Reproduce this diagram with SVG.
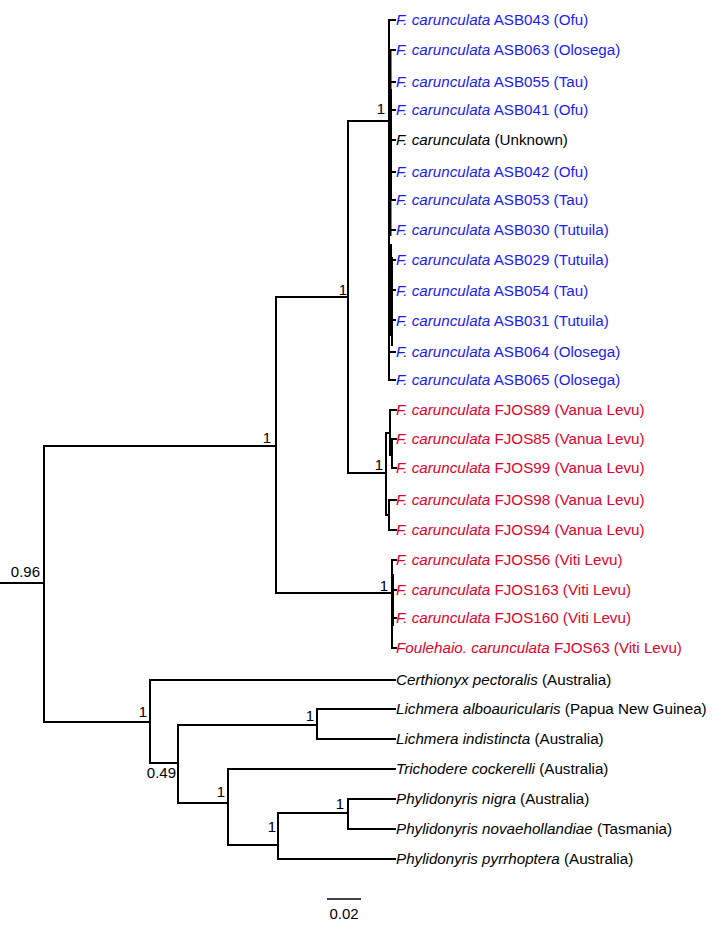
<svg xmlns="http://www.w3.org/2000/svg" width="726" height="944" viewBox="0 0 726 944">
<style>
.br{fill:none;stroke:#000;stroke-width:2;stroke-linecap:square}
.t{font-family:"Liberation Sans",Arial,sans-serif;font-size:15.2px}
.i{font-style:italic}
.b{fill:#1c1cf0}
.r{fill:#e4002b}
.k{fill:#000}
.n{font-family:"Liberation Sans",Arial,sans-serif;font-size:15px;fill:#000}
</style>
<rect width="726" height="944" fill="#fff"/>
<g id="connectors">
<path class="br" d="M0,583H44M44,446V722M44,446H276M44,722H150"/>
<path class="br" d="M276,297V593M276,297H348M276,593H392"/>
<path class="br" d="M348,121V473M348,121H389M348,473H386"/>
<!-- Samoan clade -->
<path class="br" d="M389,20V380"/>
<path class="br" d="M390.5,50V235M391,245V335M392,258V345M391,90V200"/>
<path class="br" d="M389,20H395M391,50H395M391,82H395M391,110H395M391,140H395M391,172H395M391,200H395M391,230H395M391,260H395M391,290H395M391,320H395M391,352H395M389,380H395"/>
<!-- Vanua Levu clade -->
<path class="br" d="M386,433V515M386,433H390M390,410V455M390,455H392M392,439V468M390,410H396M392,439H396M392,468H396M386,515H389M389,500V530M389,500H396M389,530H396"/>
<!-- Viti Levu clade -->
<path class="br" d="M392,560V648M393,575V625M392,560H396M393,590H396M393,618H396M392,648H396"/>
<!-- outgroups -->
<path class="br" d="M150,680V763M150,680H395M150,763H178M178,725V803M178,725H317M317,709V739M317,709H395M317,739H395M178,803H228M228,769V845M228,769H395M228,845H278M278,813V859M278,813H348M348,799V829M348,799H395M348,829H395M278,859H395"/>
<!-- scale bar -->
<path fill="none" stroke="#000" stroke-width="1.3" d="M327,899H361"/>
</g>
<g id="tips">
<g id="asb043"><text class="t b" x="396" y="25"><tspan class="i">F. carunculata</tspan> ASB043 (Ofu)</text></g>
<g id="asb063"><text class="t b" x="396" y="55"><tspan class="i">F. carunculata</tspan> ASB063 (Olosega)</text></g>
<g id="asb055"><text class="t b" x="396" y="87"><tspan class="i">F. carunculata</tspan> ASB055 (Tau)</text></g>
<g id="asb041"><text class="t b" x="396" y="115"><tspan class="i">F. carunculata</tspan> ASB041 (Ofu)</text></g>
<g id="unknown"><text class="t k" x="396" y="145"><tspan class="i">F. carunculata</tspan> (Unknown)</text></g>
<g id="asb042"><text class="t b" x="396" y="177"><tspan class="i">F. carunculata</tspan> ASB042 (Ofu)</text></g>
<g id="asb053"><text class="t b" x="396" y="205"><tspan class="i">F. carunculata</tspan> ASB053 (Tau)</text></g>
<g id="asb030"><text class="t b" x="396" y="235"><tspan class="i">F. carunculata</tspan> ASB030 (Tutuila)</text></g>
<g id="asb029"><text class="t b" x="396" y="265"><tspan class="i">F. carunculata</tspan> ASB029 (Tutuila)</text></g>
<g id="asb054"><text class="t b" x="396" y="296"><tspan class="i">F. carunculata</tspan> ASB054 (Tau)</text></g>
<g id="asb031"><text class="t b" x="396" y="326"><tspan class="i">F. carunculata</tspan> ASB031 (Tutuila)</text></g>
<g id="asb064"><text class="t b" x="396" y="357"><tspan class="i">F. carunculata</tspan> ASB064 (Olosega)</text></g>
<g id="asb065"><text class="t b" x="396" y="385"><tspan class="i">F. carunculata</tspan> ASB065 (Olosega)</text></g>
<g id="fjos89"><text class="t r" x="396" y="415"><tspan class="i">F. carunculata</tspan> FJOS89 (Vanua Levu)</text></g>
<g id="fjos85"><text class="t r" x="396" y="444"><tspan class="i">F. carunculata</tspan> FJOS85 (Vanua Levu)</text></g>
<g id="fjos99"><text class="t r" x="396" y="473"><tspan class="i">F. carunculata</tspan> FJOS99 (Vanua Levu)</text></g>
<g id="fjos98"><text class="t r" x="396" y="505"><tspan class="i">F. carunculata</tspan> FJOS98 (Vanua Levu)</text></g>
<g id="fjos94"><text class="t r" x="396" y="535"><tspan class="i">F. carunculata</tspan> FJOS94 (Vanua Levu)</text></g>
<g id="fjos56"><text class="t r" x="396" y="565"><tspan class="i">F. carunculata</tspan> FJOS56 (Viti Levu)</text></g>
<g id="fjos163"><text class="t r" x="396" y="595"><tspan class="i">F. carunculata</tspan> FJOS163 (Viti Levu)</text></g>
<g id="fjos160"><text class="t r" x="396" y="623"><tspan class="i">F. carunculata</tspan> FJOS160 (Viti Levu)</text></g>
<g id="fjos63"><text class="t r" x="396" y="653"><tspan class="i">Foulehaio. carunculata</tspan> FJOS63 (Viti Levu)</text></g>
<g id="certhionyx"><text class="t k" x="396" y="685"><tspan class="i">Certhionyx pectoralis</tspan> (Australia)</text></g>
<g id="lich-albo"><text class="t k" x="396" y="714"><tspan class="i">Lichmera alboauricularis</tspan> (Papua New Guinea)</text></g>
<g id="lich-ind"><text class="t k" x="396" y="744"><tspan class="i">Lichmera indistincta</tspan> (Australia)</text></g>
<g id="trichodere"><text class="t k" x="396" y="774"><tspan class="i">Trichodere cockerelli</tspan> (Australia)</text></g>
<g id="phyl-nigra"><text class="t k" x="396" y="804"><tspan class="i">Phylidonyris nigra</tspan> (Australia)</text></g>
<g id="phyl-nov"><text class="t k" x="396" y="834"><tspan class="i">Phylidonyris novaehollandiae</tspan> (Tasmania)</text></g>
<g id="phyl-pyrr"><text class="t k" x="396" y="864"><tspan class="i">Phylidonyris pyrrhoptera</tspan> (Australia)</text></g>
</g>
<g id="support">
<text class="n" x="40" y="577" text-anchor="end">0.96</text>
<text class="n" x="271" y="443" text-anchor="end">1</text>
<text class="n" x="347" y="295" text-anchor="end">1</text>
<text class="n" x="385" y="114" text-anchor="end">1</text>
<text class="n" x="383" y="470" text-anchor="end">1</text>
<text class="n" x="388" y="591" text-anchor="end">1</text>
<text class="n" x="147" y="717" text-anchor="end">1</text>
<text class="n" x="176" y="778" text-anchor="end">0.49</text>
<text class="n" x="314" y="721" text-anchor="end">1</text>
<text class="n" x="225" y="797" text-anchor="end">1</text>
<text class="n" x="276" y="832" text-anchor="end">1</text>
<text class="n" x="344" y="809" text-anchor="end">1</text>
</g>
<g id="scale"><text class="n" x="344" y="919" text-anchor="middle">0.02</text></g>
</svg>
